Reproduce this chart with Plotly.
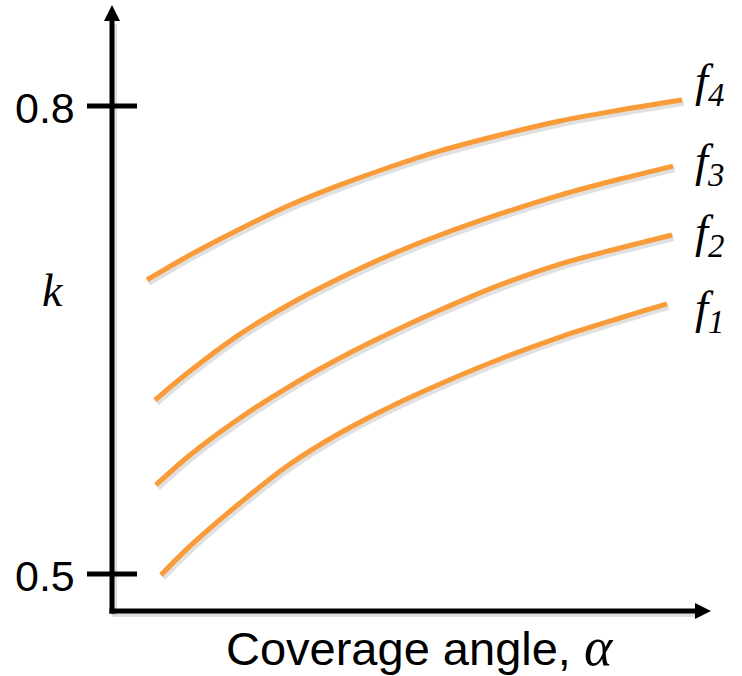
import plotly.graph_objects as go

# Coverage angle (arbitrary units along the arrow axis)
alpha_f4 = [5.83, 13.0, 21.33, 29.67, 38.0, 46.33, 54.67, 64.67, 74.67, 84.67, 95.0]
alpha_f3 = [7.17, 13.0, 21.33, 29.67, 38.0, 46.33, 54.67, 64.67, 74.67, 84.67, 93.5]
alpha_f2 = [7.33, 13.0, 21.33, 29.67, 38.0, 46.33, 54.67, 64.67, 74.67, 84.67, 93.33]
alpha_f1 = [8.17, 13.0, 21.33, 29.67, 38.0, 46.33, 54.67, 64.67, 74.67, 84.67, 92.5]

# Coefficient k for each curve
k_f4 = [0.6885, 0.7045, 0.7212, 0.7365, 0.7494, 0.7609, 0.7712, 0.7814, 0.7904, 0.7974, 0.8038]
k_f3 = [0.6115, 0.6301, 0.6538, 0.6731, 0.6897, 0.7045, 0.7173, 0.7308, 0.7429, 0.7532, 0.7615]
k_f2 = [0.5571, 0.5763, 0.6000, 0.6205, 0.6385, 0.6545, 0.6692, 0.6853, 0.6987, 0.7090, 0.7173]
k_f1 = [0.4994, 0.5179, 0.5455, 0.5705, 0.5904, 0.6071, 0.6218, 0.6378, 0.6519, 0.6641, 0.6731]

series_names = ["f1", "f2", "f3", "f4"]
series_alpha = [alpha_f1, alpha_f2, alpha_f3, alpha_f4]
series_k = [k_f1, k_f2, k_f3, k_f4]

y_tick_vals = [0.5, 0.8]
y_tick_text = ["0.5", "0.8"]

W, H = 742, 676
# Axis scales: 6 px per alpha unit, 1560 px per unit of k
X_PER_PX = 1 / 6.0
K_PER_PX = 1 / 1560.0
x_range = [-112 * X_PER_PX, (W - 112) * X_PER_PX]
y_range = [0.8 - (H - 106) * K_PER_PX, 0.8 + 106 * K_PER_PX]

ORANGE = "#F99B38"
SANS = "Liberation Sans, Arial, sans-serif"
SERIF = "Liberation Serif, Times New Roman, serif"

# vertical centres (px from top) of the curve labels f1..f4
label_centres = [310, 235, 163, 84]


def px(xp):
    return xp / W


def py(yp):
    return 1 - yp / H


fig = go.Figure()

# soft drop shadow under each curve
for a, k in zip(series_alpha, series_k):
    fig.add_trace(go.Scatter(
        x=[v + 1.5 * X_PER_PX for v in a], y=[v - 2.5 * K_PER_PX for v in k],
        mode="lines", line=dict(color="rgba(0,0,0,0.12)", width=7, shape="spline"),
        hoverinfo="skip", showlegend=False))

for name, a, k in zip(series_names, series_alpha, series_k):
    fig.add_trace(go.Scatter(
        x=a, y=k, mode="lines", name=name,
        line=dict(color=ORANGE, width=5, shape="spline"), showlegend=False))

shapes = []
# axis shadows
shapes.append(dict(type="line", xref="paper", yref="paper", layer="below",
                   x0=px(114), x1=px(114), y0=py(24), y1=py(615),
                   line=dict(color="rgba(0,0,0,0.12)", width=6)))
shapes.append(dict(type="line", xref="paper", yref="paper", layer="below",
                   x0=px(112), x1=px(697), y0=py(614), y1=py(614),
                   line=dict(color="rgba(0,0,0,0.12)", width=6)))
# y axis line and arrow
shapes.append(dict(type="line", xref="paper", yref="paper",
                   x0=px(112), x1=px(112), y0=py(20), y1=py(613.5),
                   line=dict(color="black", width=5)))
shapes.append(dict(type="path", xref="paper", yref="paper",
                   path=f"M {px(104)} {py(21)} L {px(112)} {py(5)} L {px(120)} {py(21)} Z",
                   fillcolor="black", line=dict(color="black", width=0)))
# x axis line and arrow
shapes.append(dict(type="line", xref="paper", yref="paper",
                   x0=px(109.5), x1=px(697), y0=py(611), y1=py(611),
                   line=dict(color="black", width=5)))
shapes.append(dict(type="path", xref="paper", yref="paper",
                   path=f"M {px(695)} {py(603)} L {px(711)} {py(611)} L {px(695)} {py(619)} Z",
                   fillcolor="black", line=dict(color="black", width=0)))
# tick marks crossing the y axis
for tv in y_tick_vals:
    shapes.append(dict(type="line", xref="paper", yref="y",
                       x0=px(87), x1=px(137), y0=tv, y1=tv,
                       line=dict(color="black", width=5)))

annotations = []
for tv, tt in zip(y_tick_vals, y_tick_text):
    annotations.append(dict(x=px(77), y=tv - 2 * K_PER_PX, xref="paper", yref="y",
                            text=tt, showarrow=False, xanchor="right", yanchor="middle",
                            font=dict(family=SANS, size=43, color="black")))

# curve labels to the right of each line
for name, yc in zip(series_names, label_centres):
    annotations.append(dict(x=px(693), y=py(yc), xref="paper", yref="paper",
                            text=f"<i>f<sub>{name[1:]}</sub></i>", showarrow=False,
                            xanchor="left", yanchor="middle",
                            font=dict(family=SERIF, size=47, color="black")))

annotations.append(dict(x=px(53), y=py(291), xref="paper", yref="paper",
                        text="<i>k</i>", showarrow=False, xanchor="center", yanchor="middle",
                        font=dict(family=SERIF, size=46, color="black")))
annotations.append(dict(x=px(420), y=py(647), xref="paper", yref="paper",
                        text=("Coverage angle, "
                              f"<span style=\"font-family:{SERIF};font-size:54px\"><i>α</i></span>"),
                        showarrow=False, xanchor="center", yanchor="middle",
                        font=dict(family=SANS, size=47, color="black")))

fig.update_layout(
    width=W, height=H,
    margin=dict(l=0, r=0, t=0, b=0),
    paper_bgcolor="white", plot_bgcolor="white",
    xaxis=dict(range=x_range, visible=False, fixedrange=True),
    yaxis=dict(range=y_range, visible=False, fixedrange=True),
    shapes=shapes, annotations=annotations,
    showlegend=False,
)

fig.write_html("out.html")
